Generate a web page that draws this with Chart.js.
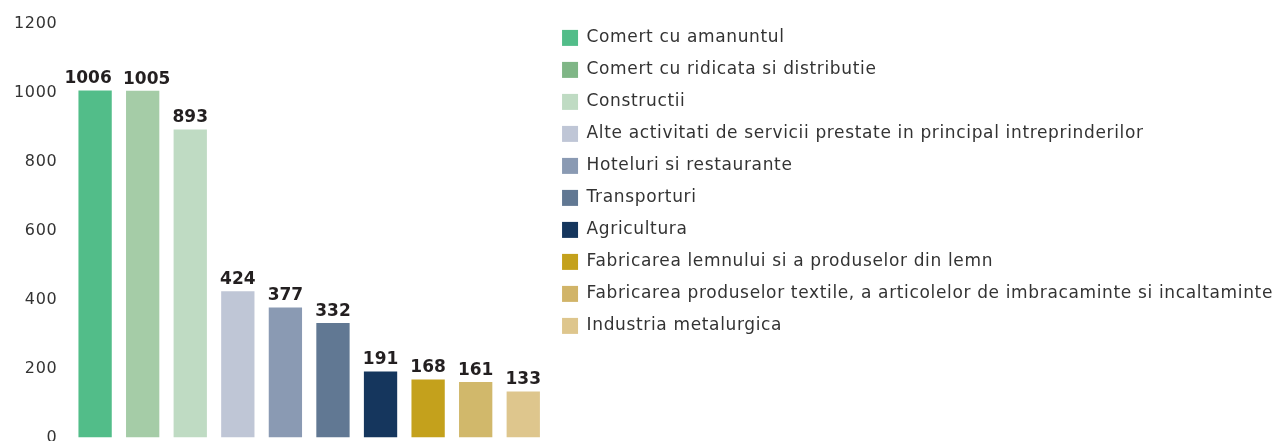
<!DOCTYPE html>
<html>
<head>
<meta charset="utf-8">
<script src="https://cdn.jsdelivr.net/npm/chart.js@4"></script>
<style>
  html, body { margin: 0; padding: 0; background: #fff; overflow: hidden; }
  #wrap { position: relative; width: 1283px; height: 461px; }
</style>
</head>
<body>
<div id="wrap"><canvas id="chart1"></canvas></div>
<script>
const categories = [
  "Comert cu amanuntul",
  "Comert cu ridicata si distributie",
  "Constructii",
  "Alte activitati de servicii prestate in principal intreprinderilor",
  "Hoteluri si restaurante",
  "Transporturi",
  "Agricultura",
  "Fabricarea lemnului si a produselor din lemn",
  "Fabricarea produselor textile, a articolelor de imbracaminte si incaltaminte",
  "Industria metalurgica",
];
const values = [1006, 1005, 893, 424, 377, 332, 191, 168, 161, 133];
const barColors = ["#52bd89", "#a5cca7", "#bfdbc3", "#bfc6d6", "#8a9ab3", "#617893", "#15365d", "#c4a11c", "#d1b86b", "#dec68d"];
const legendColors = ["#52bd89", "#7fb686", "#bfdbc3", "#bfc6d6", "#8a9ab3", "#617893", "#15365d", "#c4a11c", "#d1b468", "#dec68d"];
const yTicks = [0, 200, 400, 600, 800, 1000, 1200];

// the original font is wider, so spread the letters a bit
// (a canvas resize resets the context, so set it again before layout and draw)
const spacing = {
  id: "spacing",
  beforeLayout(chart) {
    chart.ctx.letterSpacing = "0.65px";
  },
  beforeDraw(chart) {
    chart.ctx.letterSpacing = "0.65px";
  },
};

const valueLabels = {
  id: "valueLabels",
  afterDatasetsDraw(chart) {
    const ctx = chart.ctx;
    const meta = chart.getDatasetMeta(0);
    ctx.save();
    ctx.letterSpacing = "0px";
    ctx.font = "bold 17px 'DejaVu Sans'";
    ctx.fillStyle = "#231f20";
    ctx.textAlign = "center";
    ctx.textBaseline = "bottom";
    meta.data.forEach((bar, i) => {
      // first two labels are pushed apart so they don't touch
      let dx = 0;
      if (i === 0) dx = -7;
      if (i === 1) dx = 4;
      ctx.fillText(values[i], bar.x + dx, bar.y - 3);
    });
    ctx.restore();
  },
};

const ctx1 = document.getElementById("chart1").getContext("2d");

const chart1 = new Chart(ctx1, {
  type: "bar",
  data: {
    labels: categories,
    datasets: [
      {
        data: values,
        backgroundColor: barColors,
        barPercentage: 0.7,
        categoryPercentage: 1,
      },
    ],
  },
  options: {
    responsive: true,
    maintainAspectRatio: false,
    animation: false,
    layout: { padding: { top: 12, left: 0, right: 0, bottom: 0 } },
    scales: {
      x: { display: false },
      y: {
        min: 0,
        max: 1200,
        afterBuildTicks: (axis) => {
          axis.ticks = yTicks.map((v) => ({ value: v }));
        },
        grid: { display: false, drawTicks: false },
        border: { display: false },
        ticks: {
          padding: 14,
          color: "#333",
          font: { family: "DejaVu Sans", size: 16 },
          callback: (v) => String(v),
        },
      },
    },
    plugins: {
      tooltip: { enabled: false },
      legend: {
        position: "right",
        align: "start",
        maxWidth: 760,
        title: { display: true, text: "", color: "#333", padding: 0, font: { size: 2 } },
        labels: {
          boxWidth: 16,
          boxHeight: 16,
          padding: 15,
          color: "#333",
          font: { family: "DejaVu Sans", size: 17 },
          generateLabels: () =>
            categories.map((c, i) => ({
              text: c,
              fillStyle: legendColors[i],
              strokeStyle: legendColors[i],
              fontColor: "#333",
              lineWidth: 0,
              index: i,
            })),
        },
      },
    },
  },
  plugins: [spacing, valueLabels],
});
</script>
</body>
</html>
